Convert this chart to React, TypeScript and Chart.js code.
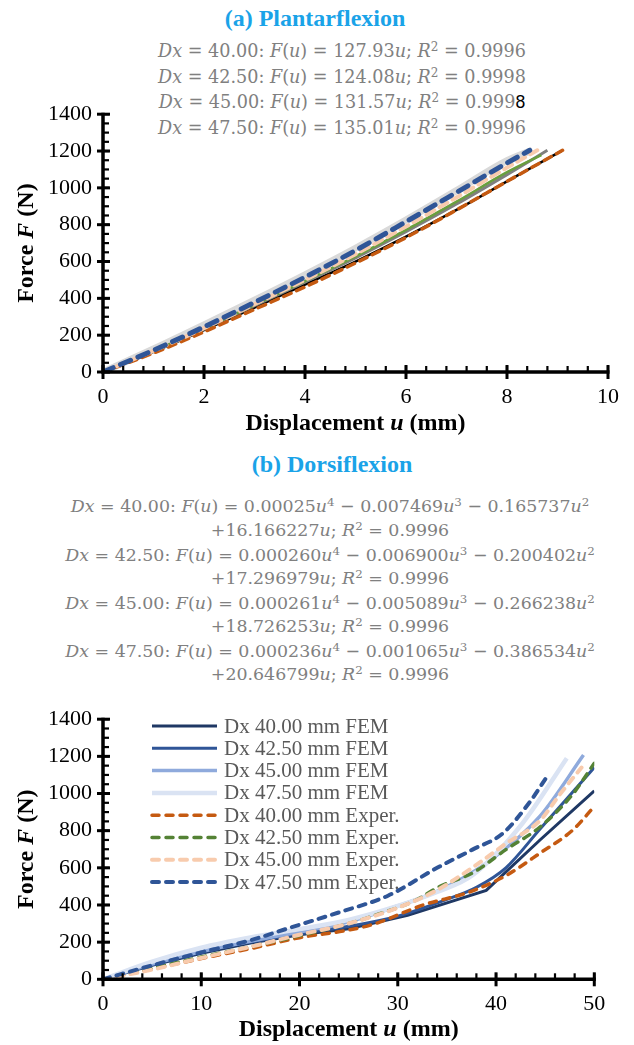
import React, { useEffect, useRef } from 'react';
import { Chart, registerables } from 'chart.js';

Chart.register(...registerables);

const SERIF = '"Liberation Serif", "Times New Roman", serif';
const EQ_FONT = '"DejaVu Serif", serif';

// ---------- texts ----------
const TITLE_A = '(a) Plantarflexion';
const TITLE_B = '(b) Dorsiflexion';
const EQ_A = [
  'Dx = 40.00: F(u) = 127.93u; R^2 = 0.9996',
  'Dx = 42.50: F(u) = 124.08u; R^2 = 0.9998',
  'Dx = 45.00: F(u) = 131.57u; R^2 = 0.999#8',
  'Dx = 47.50: F(u) = 135.01u; R^2 = 0.9996',
];
const EQ_B = [
  'Dx = 40.00: F(u) = 0.00025u^4 − 0.007469u^3 − 0.165737u^2',
  '+16.166227u; R^2 = 0.9996',
  'Dx = 42.50: F(u) = 0.000260u^4 − 0.006900u^3 − 0.200402u^2',
  '+17.296979u; R^2 = 0.9996',
  'Dx = 45.00: F(u) = 0.000261u^4 − 0.005089u^3 − 0.266238u^2',
  '+18.726253u; R^2 = 0.9996',
  'Dx = 47.50: F(u) = 0.000236u^4 − 0.001065u^3 − 0.386534u^2',
  '+20.646799u; R^2 = 0.9996',
];
const LABELS = [
  'Dx 40.00 mm FEM',
  'Dx 42.50 mm FEM',
  'Dx 45.00 mm FEM',
  'Dx 47.50 mm FEM',
  'Dx 40.00 mm Exper.',
  'Dx 42.50 mm Exper.',
  'Dx 45.00 mm Exper.',
  'Dx 47.50 mm Exper.',
];

// ---------- axes ----------
const A_X_TICKS = [0, 2, 4, 6, 8, 10];
const B_X_TICKS = [0, 10, 20, 30, 40, 50];
const Y_TICKS = [0, 200, 400, 600, 800, 1000, 1200, 1400];

// ---------- (a) Plantarflexion data ----------
const PF_U_FEM40 = [0, 1, 2, 3, 4, 5, 6, 7, 8, 9.1];
const PF_F_FEM40 = [0, 110, 228, 350, 475, 600, 735, 880, 1035, 1204];
const PF_U_FEM42 = [0, 1, 2, 3, 4, 5, 6, 7, 8, 8.8];
const PF_F_FEM42 = [0, 112, 233, 360, 488, 620, 762, 912, 1072, 1204];
const PF_U_FEM45 = [0, 1, 2, 3, 4, 5, 6, 7, 8, 8.68];
const PF_F_FEM45 = [0, 113, 236, 364, 494, 628, 772, 925, 1085, 1178];
const PF_U_FEM47 = [0, 1, 2, 3, 4, 5, 6, 7, 8, 8.5];
const PF_F_FEM47 = [0, 125, 256, 390, 528, 672, 825, 985, 1148, 1204];
const PF_U_EXP40 = [0, 1, 2, 3, 4, 5, 6, 7, 8, 9.1];
const PF_F_EXP40 = [0, 103, 218, 340, 462, 592, 730, 880, 1035, 1204];
const PF_U_EXP45 = [0, 1, 2, 3, 4, 5, 6, 7, 8, 8.6];
const PF_F_EXP45 = [0, 115, 238, 368, 500, 640, 790, 948, 1110, 1204];
const PF_U_EXP47 = [0, 1, 2, 3, 4, 5, 6, 7, 8, 8.45];
const PF_F_EXP47 = [0, 118, 245, 378, 515, 660, 816, 975, 1135, 1204];

// ---------- (b) Dorsiflexion data ----------
const DF_U_FEM40 = [0, 5, 10, 15, 20, 25, 31, 39, 44.5, 50];
const DF_F_FEM40 = [0, 75, 140, 195, 240, 272, 344, 479, 751, 1014];
const DF_U_FEM42 = [0, 5, 10, 15, 20, 25, 30, 35, 38, 41, 44.5, 47, 50];
const DF_F_FEM42 = [0, 78, 145, 200, 245, 285, 340, 430, 495, 600, 810, 960, 1140];
const DF_U_FEM45 = [0, 5, 10, 15, 20, 25, 30, 34.3, 39.4, 44.5, 48.9];
const DF_F_FEM45 = [0, 82, 150, 205, 255, 310, 395, 480, 640, 880, 1207];
const DF_U_FEM47 = [0, 5, 10, 15, 20, 25, 30, 34, 37.6, 42.7, 47.2];
const DF_F_FEM47 = [0, 95, 170, 225, 270, 320, 395, 470, 560, 840, 1190];
const DF_U_EXP40 = [0, 5, 10, 15, 20, 25, 27.5, 32.6, 37.3, 41, 44.5, 47.8, 50];
const DF_F_EXP40 = [0, 55, 112, 165, 224, 265, 296, 400, 470, 558, 680, 803, 930];
const DF_U_EXP42 = [0, 5, 10, 15, 20, 25, 28, 31.5, 34.3, 37.7, 41, 44.5, 47.8, 50];
const DF_F_EXP42 = [0, 60, 120, 175, 235, 300, 350, 417, 500, 575, 698, 821, 996, 1163];
const DF_U_EXP45 = [0, 5, 10, 15, 20, 25, 30, 34, 37.7, 41, 44.5, 46.5, 48.7];
const DF_F_EXP45 = [0, 52, 115, 175, 240, 300, 385, 480, 605, 730, 856, 996, 1140];
const DF_U_EXP47 = [0, 5, 10, 15, 19, 24, 29, 34, 37.6, 40.7, 43.4, 45.1];
const DF_F_EXP47 = [0, 75, 145, 210, 277, 360, 450, 600, 698, 786, 952, 1084];

const pts = (u: number[], f: number[]) => u.map((x, i) => ({ x, y: f[i] }));

function ds(label: string, u: number[], f: number[], color: string, width: number, dash: number[], order: number, smooth = true) {
  return {
    label,
    data: pts(u, f),
    borderColor: color,
    backgroundColor: color,
    borderWidth: width,
    borderDash: dash,
    borderCapStyle: dash.length ? 'round' : 'butt',
    pointRadius: 0,
    tension: smooth ? 0.35 : 0,
    cubicInterpolationMode: smooth ? 'monotone' : 'default',
    fill: false,
    order,
  };
}

type Seg = { t: string; font: string };

function drawRich(ctx: CanvasRenderingContext2D, segs: Seg[], cx: number, cy: number) {
  let total = 0;
  for (const s of segs) {
    ctx.font = s.font;
    total += ctx.measureText(s.t).width;
  }
  let x = cx - total / 2;
  ctx.textAlign = 'left';
  ctx.textBaseline = 'middle';
  for (const s of segs) {
    ctx.font = s.font;
    ctx.fillText(s.t, x, cy);
    x += ctx.measureText(s.t).width;
  }
}

function makeAxesPlugin(cfg: any) {
  return {
    id: 'customAxes',
    afterDatasetsDraw(chart: any) {
      const ctx: CanvasRenderingContext2D = chart.ctx;
      const ca = chart.chartArea;
      const xs = chart.scales.x;
      const ys = chart.scales.y;
      ctx.save();
      ctx.strokeStyle = '#000';
      ctx.lineCap = 'butt';
      // minor ticks
      ctx.lineWidth = 2.2;
      for (let v = ys.min; v <= ys.max + 1e-6; v += cfg.yMinor) {
        const py = ys.getPixelForValue(v);
        ctx.beginPath();
        ctx.moveTo(ca.left, py);
        ctx.lineTo(ca.left + 6, py);
        ctx.stroke();
      }
      for (let v = xs.min; v <= xs.max + 1e-6; v += cfg.xMinor) {
        const px = xs.getPixelForValue(v);
        ctx.beginPath();
        ctx.moveTo(px, ca.bottom);
        ctx.lineTo(px, ca.bottom - 6);
        ctx.stroke();
      }
      // major ticks
      ctx.lineWidth = 3;
      for (const v of cfg.yTicks) {
        const py = ys.getPixelForValue(v);
        ctx.beginPath();
        ctx.moveTo(ca.left - 6, py);
        ctx.lineTo(ca.left + 7, py);
        ctx.stroke();
      }
      for (const v of cfg.xTicks) {
        const px = xs.getPixelForValue(v);
        ctx.beginPath();
        ctx.moveTo(px, ca.bottom - 7);
        ctx.lineTo(px, ca.bottom + 7);
        ctx.stroke();
      }
      // axis lines
      ctx.lineWidth = 3.5;
      ctx.beginPath();
      ctx.moveTo(ca.left, ca.top - 1.5);
      ctx.lineTo(ca.left, ca.bottom);
      ctx.lineTo(ca.right + 1.5, ca.bottom);
      ctx.stroke();

      // axis titles
      ctx.fillStyle = '#000';
      const bold = `bold 24px ${SERIF}`;
      const boldIt = `italic bold 24px ${SERIF}`;
      drawRich(ctx, [
        { t: 'Displacement ', font: bold },
        { t: 'u', font: boldIt },
        { t: ' (mm)', font: bold },
      ], (ca.left + ca.right) / 2, cfg.xTitleY);
      ctx.save();
      ctx.translate(cfg.yTitleX, (ca.top + ca.bottom) / 2);
      ctx.rotate(-Math.PI / 2);
      drawRich(ctx, [
        { t: 'Force ', font: bold },
        { t: 'F', font: boldIt },
        { t: ' (N)', font: bold },
      ], 0, 0);
      ctx.restore();

      // legend
      if (cfg.legend) {
        const L = cfg.legend;
        chart.data.datasets.forEach((d: any, i: number) => {
          const y = L.top + i * L.step;
          ctx.save();
          ctx.strokeStyle = d.borderColor;
          ctx.lineWidth = d.borderWidth;
          ctx.setLineDash(d.borderDash || []);
          ctx.lineCap = d.borderDash && d.borderDash.length ? 'round' : 'butt';
          ctx.beginPath();
          ctx.moveTo(L.x0, y);
          ctx.lineTo(L.x1, y);
          ctx.stroke();
          ctx.restore();
          ctx.fillStyle = '#595959';
          ctx.font = `21px ${SERIF}`;
          ctx.textAlign = 'left';
          ctx.textBaseline = 'middle';
          ctx.fillText(d.label, L.tx, y + 1);
        });
      }
      ctx.restore();
    },
  };
}

function baseOptions(xMax: number, padRight: number, padTop: number, xAxisH: number, cfg: any) {
  const tickFont = { family: SERIF, size: 22 };
  return {
    responsive: false,
    animation: false,
    events: [],
    layout: { padding: { left: 0, right: padRight, top: padTop, bottom: 0 } },
    plugins: { legend: { display: false }, tooltip: { enabled: false }, title: { display: false } },
    scales: {
      x: {
        type: 'linear',
        min: 0,
        max: xMax,
        afterBuildTicks: (s: any) => { s.ticks = cfg.xTicks.map((v: number) => ({ value: v })); },
        ticks: { font: tickFont, color: '#000', padding: 12, maxRotation: 0, autoSkip: false, callback: (v: any) => String(v) },
        grid: { display: false, drawTicks: false },
        border: { display: false },
        afterFit: (s: any) => { s.height = xAxisH; },
      },
      y: {
        type: 'linear',
        min: 0,
        max: 1400,
        afterBuildTicks: (s: any) => { s.ticks = cfg.yTicks.map((v: number) => ({ value: v })); },
        ticks: { font: tickFont, color: '#000', padding: 11, autoSkip: false, callback: (v: any) => String(v) },
        grid: { display: false, drawTicks: false },
        border: { display: false },
        afterFit: (s: any) => { s.width = 103; },
      },
    },
  };
}

function ChartCanvas({ top, height, build }: { top: number; height: number; build: () => any }) {
  const ref = useRef<HTMLCanvasElement | null>(null);
  useEffect(() => {
    if (!ref.current) return;
    const chart = new Chart(ref.current, build());
    return () => chart.destroy();
  }, []);
  return (
    <canvas
      ref={ref}
      width={634}
      height={height}
      style={{ position: 'absolute', left: 0, top, width: 634, height }}
    />
  );
}

function buildA() {
  const cfg = { xMinor: 0.4, yMinor: 50, xTicks: A_X_TICKS, yTicks: Y_TICKS, xTitleY: 334, yTitleX: 27 };
  const datasets = [
    ds(LABELS[0], PF_U_FEM40, PF_F_FEM40, '#000000', 2.5, [], 6),
    ds(LABELS[1], PF_U_FEM42, PF_F_FEM42, '#7F7F7F', 3, [], 5),
    ds(LABELS[2], PF_U_FEM45, PF_F_FEM45, '#6A9F3E', 2.5, [], 4),
    ds(LABELS[3], PF_U_FEM47, PF_F_FEM47, '#D9D9D9', 7, [], 7),
    ds(LABELS[4], PF_U_EXP40, PF_F_EXP40, '#C55A11', 3.5, [8, 6], 2),
    ds(LABELS[6], PF_U_EXP45, PF_F_EXP45, '#F8CBAD', 4, [9, 6], 1),
    ds(LABELS[7], PF_U_EXP47, PF_F_EXP47, '#2F5597', 5, [11, 8], 0),
  ];
  return {
    type: 'line',
    data: { datasets },
    options: baseOptions(10, 26, 15.5, 78, cfg),
    plugins: [makeAxesPlugin(cfg)],
  };
}

function buildB() {
  const cfg = {
    xMinor: 2, yMinor: 50, xTicks: B_X_TICKS, yTicks: Y_TICKS, xTitleY: 335, yTitleX: 27,
    legend: { top: 31, step: 22.3, x0: 152, x1: 217, tx: 224 },
  };
  const datasets = [
    ds(LABELS[0], DF_U_FEM40, DF_F_FEM40, '#1F3864', 3, [], 7, false),
    ds(LABELS[1], DF_U_FEM42, DF_F_FEM42, '#2F5597', 3, [], 6),
    ds(LABELS[2], DF_U_FEM45, DF_F_FEM45, '#8FAADC', 3.5, [], 5),
    ds(LABELS[3], DF_U_FEM47, DF_F_FEM47, '#DAE3F3', 4.5, [], 4),
    ds(LABELS[4], DF_U_EXP40, DF_F_EXP40, '#C55A11', 3.5, [7, 7], 3),
    ds(LABELS[5], DF_U_EXP42, DF_F_EXP42, '#548235', 3.5, [7, 7], 2),
    ds(LABELS[6], DF_U_EXP45, DF_F_EXP45, '#F8CBAD', 4, [7, 7], 1),
    ds(LABELS[7], DF_U_EXP47, DF_F_EXP47, '#2F5597', 4, [7, 7], 0),
  ];
  return {
    type: 'line',
    data: { datasets },
    options: baseOptions(50, 39.7, 18.3, 65.7, cfg),
    plugins: [makeAxesPlugin(cfg)],
  };
}

function renderEq(s: string) {
  const out: any[] = [];
  let i = 0;
  let k = 0;
  const isL = (c: string) => /[A-Za-z]/.test(c);
  while (i < s.length) {
    const c = s[i];
    if (c === '^') {
      out.push(<sup key={k++} style={{ fontSize: '0.68em', verticalAlign: '0.5em', lineHeight: 0 }}>{s[i + 1]}</sup>);
      i += 2;
      continue;
    }
    if (c === '#') {
      out.push(<span key={k++} style={{ color: '#000', fontFamily: '"Liberation Sans", Arial, sans-serif' }}>{s[i + 1]}</span>);
      i += 2;
      continue;
    }
    let j = i;
    if (isL(c)) {
      while (j < s.length && isL(s[j])) j++;
      out.push(<i key={k++}>{s.slice(i, j)}</i>);
    } else {
      while (j < s.length && !isL(s[j]) && s[j] !== '^' && s[j] !== '#') j++;
      out.push(<span key={k++}>{s.slice(i, j)}</span>);
    }
    i = j;
  }
  return out;
}

const centered = (cx: number, cy: number): React.CSSProperties => ({
  position: 'absolute',
  left: cx,
  top: cy,
  transform: 'translate(-50%, -50%)',
  whiteSpace: 'nowrap',
  lineHeight: 1,
});

export default function App() {
  const titleStyle: React.CSSProperties = {
    fontFamily: SERIF,
    fontWeight: 'bold',
    fontSize: 24,
    color: '#1AA3E8',
  };
  const eqStyleA: React.CSSProperties = { fontFamily: EQ_FONT, fontSize: 17.6, color: '#808080' };
  const eqStyleB: React.CSSProperties = { fontFamily: EQ_FONT, fontSize: 17.4, color: '#808080' };
  const eqAY = [52, 78, 103, 129];
  const eqBY = [507, 531, 556, 579, 604, 627, 652, 675];
  return (
    <div style={{ position: 'fixed', left: 0, top: 0, width: 634, height: 1045, background: '#fff', overflow: 'hidden' }}>
      <div style={{ ...centered(315, 18), ...titleStyle }}>{TITLE_A}</div>
      {EQ_A.map((l, i) => (
        <div key={'a' + i} style={{ ...centered(342, eqAY[i]), ...eqStyleA }}>{renderEq(l)}</div>
      ))}
      <ChartCanvas top={90} height={360} build={buildA} />
      <div style={{ ...centered(332, 464), ...titleStyle }}>{TITLE_B}</div>
      {EQ_B.map((l, i) => (
        <div key={'b' + i} style={{ ...centered(330, eqBY[i]), ...eqStyleB }}>{renderEq(l)}</div>
      ))}
      <ChartCanvas top={695} height={350} build={buildB} />
    </div>
  );
}
